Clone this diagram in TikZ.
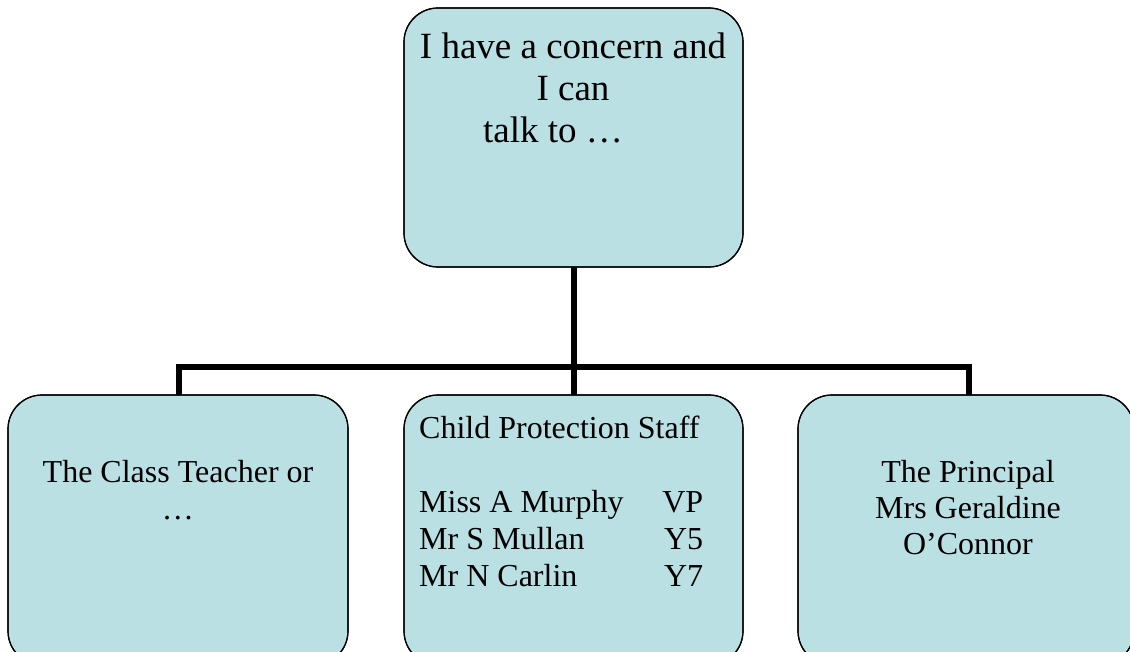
\documentclass[tikz,border=0pt]{standalone}
\usepackage{fontspec}
\setmainfont{Liberation Serif}
\definecolor{boxfill}{RGB}{187,224,227}
\tikzset{
  card/.style={draw=black, line width=1.2pt, fill=boxfill, rounded corners=34pt,
    rectangle, inner sep=0pt, outer sep=0pt},
  conn/.style={draw=black, line width=6pt, line join=miter},
  bigtext/.style={inner sep=0pt, align=center, font=\fontsize{37}{42}\selectfont},
  smalltext/.style={inner sep=0pt, font=\fontsize{32}{37}\selectfont},
}
\begin{document}
\begin{tikzpicture}[x=1pt,y=-1pt]
\useasboundingbox (0,0) rectangle (1130,652);
\clip (0,0) rectangle (1130,652);
% boxes (shapes only)
\node[card, minimum width=339pt, minimum height=259pt] (top) at (573.5,137.5) {};
\node[card, minimum width=340pt, minimum height=270pt] (left) at (178,530) {};
\node[card, minimum width=339pt, minimum height=270pt] (mid) at (573.5,530) {};
\node[card, minimum width=336pt, minimum height=270pt] (right) at (966,530) {};
% connectors
\coordinate (hub) at (573.5,367);
\coordinate (lt) at (179,395);
\coordinate (rt) at (969,395);
\draw[conn] (top.south) -- (hub);
\draw[conn] (hub) -- (mid.north);
\draw[conn] (lt) |- (hub) -| (rt);
% redraw box borders on top of connector ends
\draw[line width=1.2pt, rounded corners=34pt] (top.south west) rectangle (top.north east);
\draw[line width=1.2pt, rounded corners=34pt] (left.south west) rectangle (left.north east);
\draw[line width=1.2pt, rounded corners=34pt] (mid.south west) rectangle (mid.north east);
\draw[line width=1.2pt, rounded corners=34pt] (right.south west) rectangle (right.north east);
% texts
\node[bigtext, anchor=north] (toptext) at (573,33)
  {I have a concern and\\I can\\talk to …\hspace*{40pt}};
\node[smalltext, align=center, anchor=north] (lefttext) at (178,460)
  {The Class Teacher or\\…};
\node[smalltext, align=left, anchor=north west] (midtext) at (419,416)
  {Child Protection Staff\\[37pt]
   \makebox[284pt][l]{Miss A Murphy\hfill VP}\\
   \makebox[284pt][l]{Mr S Mullan\hfill Y5}\\
   \makebox[284pt][l]{Mr N Carlin\hfill Y7}};
\node[smalltext, align=center, anchor=north, font=\fontsize{32}{36}\selectfont] (righttext) at (968,460)
  {The Principal\\Mrs Geraldine\\O’Connor};
\end{tikzpicture}
\end{document}
